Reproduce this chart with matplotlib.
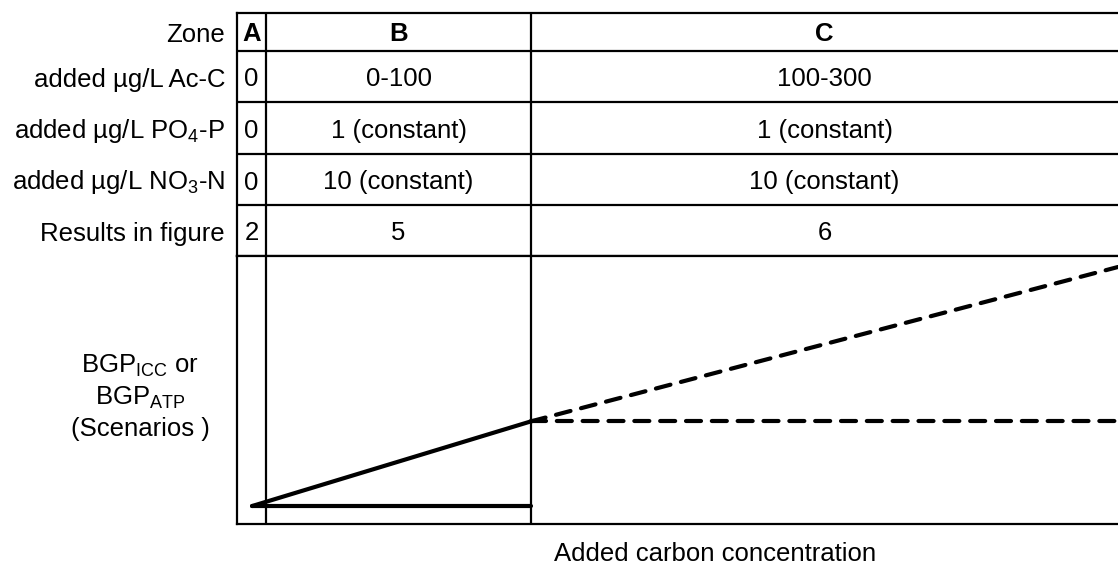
import matplotlib
matplotlib.use("Agg")
import matplotlib.pyplot as plt

plt.rcParams['font.family'] = ['Liberation Sans', 'DejaVu Sans']
plt.rcParams['mathtext.fontset'] = 'custom'
plt.rcParams['mathtext.rm'] = 'Liberation Sans'
plt.rcParams['mathtext.it'] = 'Liberation Sans:italic'
plt.rcParams['mathtext.bf'] = 'Liberation Sans:bold'

# ---------------- data ----------------
row_labels = ["Zone", "added µg/L Ac-C", r"added µg/L PO$_4$-P",
              r"added µg/L NO$_3$-N", "Results in figure"]
zone_names = ["A", "B", "C"]
zone_a_vals = ["0", "0", "0", "2"]
zone_b_vals = ["0-100", "1 (constant)", "10 (constant)", "5"]
zone_c_vals = ["100-300", "1 (constant)", "10 (constant)", "6"]

# zone edges on the (schematic) added-carbon axis
zone_edges = [-11, 0, 100, 321.6]

# schematic scenario lines (x = added carbon, y = relative BGP)
base_x = [-5.3, 100]
base_y = [6.7, 6.7]
rise_x = [-5.3, 100]
rise_y = [6.7, 38.3]
dash_up_x = [100, 321.6]
dash_up_y = [38.3, 95.9]
dash_flat_x = [100, 321.6]
dash_flat_y = [38.3, 38.3]

x_label = "Added carbon concentration"
y_label_lines = [r"BGP$_{\mathrm{ICC}}$ or", r"BGP$_{\mathrm{ATP}}$", "(Scenarios )"]

# ---------------- layout ----------------
W, H = 1118, 566
fig = plt.figure(figsize=(W / 100, H / 100), dpi=100)

left_px, right_px = 237, 1118
table_top, table_bot = 13, 256
plot_bot = 524
row_edges_px = [13, 51, 102, 154, 205, 256]
text_dy = 3

def fx(px):
    return px / W

def fy(py):
    return 1 - py / H

FS = 18.5
LW_T = 1.6
LW_D = 3.0

# table axes
tax = fig.add_axes([fx(left_px), fy(table_bot), fx(right_px - left_px),
                    (table_bot - table_top) / H])
tax.set_xlim(zone_edges[0], zone_edges[-1])
tax.set_ylim(table_bot, table_top)
tax.set_xticks([]); tax.set_yticks([])
for s in ['left', 'top', 'bottom']:
    tax.spines[s].set_linewidth(LW_T)
tax.spines['right'].set_visible(False)
for e in row_edges_px[1:-1]:
    tax.axhline(e, color='black', lw=LW_T)
for e in zone_edges[1:-1]:
    tax.axvline(e, color='black', lw=LW_T)

centers = [(row_edges_px[i] + row_edges_px[i + 1]) / 2 + text_dy
           for i in range(len(row_edges_px) - 1)]
zone_centers = [(zone_edges[i] + zone_edges[i + 1]) / 2 for i in range(3)]
for i, lab in enumerate(row_labels):
    tax.text(-12 / (right_px - left_px), centers[i], lab, transform=tax.get_yaxis_transform(),
             ha='right', va='center', fontsize=FS, clip_on=False)
for j, z in enumerate(zone_names):
    tax.text(zone_centers[j], centers[0] - 1, z, ha='center', va='center',
             fontsize=FS, fontweight='bold')
for vals, zc in zip([zone_a_vals, zone_b_vals, zone_c_vals], zone_centers):
    for i, v in enumerate(vals):
        tax.text(zc, centers[i + 1], v, ha='center', va='center', fontsize=FS)

# plot axes
pax = fig.add_axes([fx(left_px), fy(plot_bot), fx(right_px - left_px),
                    (plot_bot - table_bot) / H])
pax.set_xlim(zone_edges[0], zone_edges[-1])
pax.set_ylim(0, 100)
pax.set_xticks([]); pax.set_yticks([])
for s in ['left', 'bottom', 'top']:
    pax.spines[s].set_linewidth(LW_T)
pax.spines['right'].set_visible(False)
for e in zone_edges[1:-1]:
    pax.axvline(e, color='black', lw=LW_T)

pax.plot(base_x, base_y, color='black', lw=LW_D, solid_capstyle='round')
pax.plot(rise_x, rise_y, color='black', lw=LW_D, solid_capstyle='round')
pax.plot(dash_up_x, dash_up_y, color='black', lw=LW_D, dashes=(3.6, 2.6),
         dash_capstyle='round')
pax.plot(dash_flat_x, dash_flat_y, color='black', lw=LW_D, dashes=(3.6, 2.6),
         dash_capstyle='round')

fig.text(fx(715), fy(554), x_label, ha='center', va='center', fontsize=FS)
for yy, t in zip([366, 398, 429], y_label_lines):
    fig.text(fx(140), fy(yy), t, ha='center', va='center', fontsize=FS)

fig.savefig("out.png", dpi=100)
